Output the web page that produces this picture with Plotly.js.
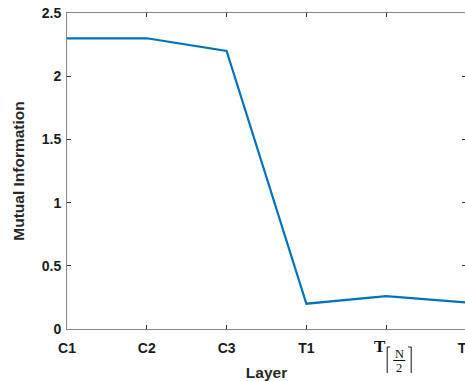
<!DOCTYPE html>
<html>
<head>
<meta charset="utf-8">
<script src="https://cdn.plot.ly/plotly-3.0.1.min.js"></script>
<style>
  html, body { margin: 0; padding: 0; overflow: hidden; background: #fff; }
  #chart { width: 466px; height: 381px; }
</style>
</head>
<body>
<div id="chart"></div>
<script>
// ---- data ----
const categories = ['C1', 'C2', 'C3', 'T1', 'T⌈N/2⌉', 'T3'];
const mutualInfo = [2.3, 2.3, 2.2, 0.2, 0.26, 0.21];
const yTicks = [0, 0.5, 1, 1.5, 2, 2.5];
const yTickLabels = ['0', '0.5', '1', '1.5', '2', '2.5'];
const specialCategory = 'T⌈N/2⌉';   // drawn as a stacked-fraction label below

const tickFont = { family: 'Liberation Sans, Arial, sans-serif', size: 14, weight: 'bold', color: '#1a1a1a' };
const axisColor = '#858585';

const trace = {
  x: categories,
  y: mutualInfo,
  type: 'scatter',
  mode: 'lines',
  line: { color: '#0072BD', width: 2.2 },
  hoverinfo: 'x+y'
};

const specialIndex = categories.indexOf(specialCategory);
const serif = 'Liberation Serif, Times New Roman, serif';

const layout = {
  width: 466,
  height: 381,
  margin: { l: 67, r: 0, t: 13, b: 52, pad: 0 },
  paper_bgcolor: '#ffffff',
  plot_bgcolor: '#ffffff',
  showlegend: false,
  xaxis: {
    type: 'category',
    range: [0, categories.length - 1],
    tickmode: 'array',
    tickvals: categories,
    ticktext: categories.map(c => c === specialCategory ? ' ' : c),
    ticks: 'inside',
    ticklen: 4,
    tickcolor: '#333',
    showline: true,
    linecolor: axisColor,
    linewidth: 1,
    mirror: 'ticks',
    showgrid: false,
    zeroline: false,
    tickfont: tickFont,
    ticklabelstandoff: 6,
    automargin: false,
    title: { text: 'Layer', font: { family: 'Liberation Sans, Arial, sans-serif', size: 15.5, weight: 'bold', color: '#262626' }, standoff: 15 }
  },
  yaxis: {
    range: [0, 2.5],
    tickmode: 'array',
    tickvals: yTicks,
    ticktext: yTickLabels,
    ticks: 'inside',
    ticklen: 4,
    tickcolor: '#333',
    showline: true,
    linecolor: axisColor,
    linewidth: 1,
    mirror: 'ticks',
    showgrid: false,
    zeroline: false,
    tickfont: tickFont,
    ticklabelstandoff: 2,
    automargin: false,
    title: { text: 'Mutual Information', font: { family: 'Liberation Sans, Arial, sans-serif', size: 15.5, weight: 'bold', color: '#262626' }, standoff: 13 }
  },
  annotations: [
    { x: specialIndex, xref: 'x', y: 0, yref: 'paper', xshift: -6, yshift: -17, xanchor: 'center', yanchor: 'middle',
      text: '<b>T</b>', showarrow: false, font: { family: serif, size: 17, color: '#111' } },
    { x: specialIndex, xref: 'x', y: 0, yref: 'paper', xshift: 13, yshift: -24.5, xanchor: 'center', yanchor: 'middle',
      text: 'N', showarrow: false, font: { family: serif, size: 12.5, color: '#111' } },
    { x: specialIndex, xref: 'x', y: 0, yref: 'paper', xshift: 13, yshift: -38.5, xanchor: 'center', yanchor: 'middle',
      text: '2', showarrow: false, font: { family: serif, size: 12.5, color: '#111' } }
  ],
  shapes: [
    { type: 'path', xref: 'x', yref: 'paper', xsizemode: 'pixel', ysizemode: 'pixel', xanchor: specialIndex, yanchor: 0,
      path: 'M4,-18 L1,-18 L1,-44', line: { color: '#111', width: 1 } },
    { type: 'path', xref: 'x', yref: 'paper', xsizemode: 'pixel', ysizemode: 'pixel', xanchor: specialIndex, yanchor: 0,
      path: 'M22,-18 L25,-18 L25,-44', line: { color: '#111', width: 1 } },
    { type: 'line', xref: 'x', yref: 'paper', xsizemode: 'pixel', ysizemode: 'pixel', xanchor: specialIndex, yanchor: 0,
      x0: 7, x1: 19, y0: -31.5, y1: -31.5, line: { color: '#111', width: 1 } }
  ]
};

Plotly.newPlot('chart', [trace], layout, { displayModeBar: false, staticPlot: true });
</script>
</body>
</html>
